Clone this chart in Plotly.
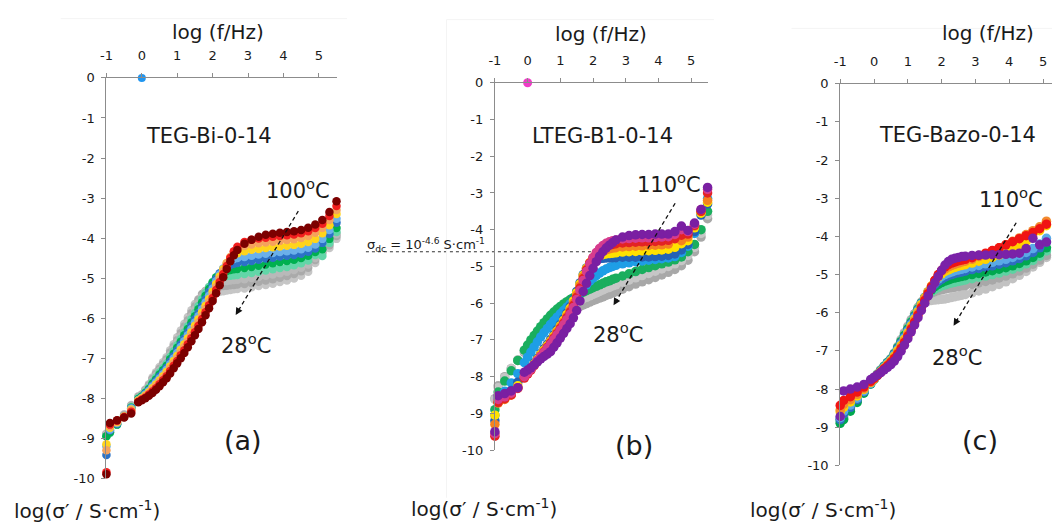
import plotly.graph_objects as go

W, H = 1052, 530

# shared frequency grid, log(f/Hz)
log_f = [-1.0, -0.9, -0.7, -0.5, -0.3, -0.1,
         0.0, 0.1, 0.2, 0.3, 0.4, 0.5, 0.6, 0.7, 0.8, 0.9, 1.0, 1.1, 1.2, 1.3, 1.4,
         1.5, 1.6, 1.7, 1.8, 1.9, 2.0, 2.1, 2.2, 2.3, 2.4, 2.5, 2.6, 2.7,
         2.9, 3.1, 3.3, 3.5, 3.7, 3.9, 4.1, 4.3, 4.5, 4.7, 4.9, 5.1, 5.3, 5.5]

# ---------------- panel (a) TEG-Bi-0-14, 28 -> 100 C ----------------
a_gray3 = [-8.88, -8.82, -8.62, -8.4, -8.17, -7.95,
           -7.9, -7.78, -7.65, -7.48, -7.35, -7.22, -7.1, -6.98, -6.8, -6.65, -6.48, -6.31, -6.14, -5.97, -5.8,
           -5.65, -5.53, -5.46, -5.42, -5.4, -5.38, -5.36, -5.34, -5.33, -5.31, -5.3, -5.28, -5.27,
           -5.26, -5.23, -5.2, -5.17, -5.14, -5.1, -5.06, -5.01, -4.94, -4.84, -4.62, -4.38, -4.25, -4.02]
a_gray2 = [-8.9, -8.84, -8.64, -8.42, -8.19, -7.97,
           -7.92, -7.8, -7.68, -7.52, -7.39, -7.27, -7.15, -7.03, -6.86, -6.71, -6.55, -6.38, -6.21, -6.05, -5.88,
           -5.71, -5.54, -5.4, -5.32, -5.28, -5.25, -5.23, -5.21, -5.2, -5.19, -5.18, -5.17, -5.16,
           -5.15, -5.12, -5.09, -5.06, -5.03, -4.99, -4.95, -4.9, -4.83, -4.74, -4.55, -4.35, -4.18, -3.95]
a_gray1 = [-8.9, -8.85, -8.65, -8.44, -8.21, -7.99,
           -7.93, -7.82, -7.71, -7.56, -7.44, -7.32, -7.2, -7.08, -6.92, -6.77, -6.61, -6.45, -6.29, -6.12, -5.96,
           -5.79, -5.62, -5.46, -5.32, -5.22, -5.16, -5.12, -5.1, -5.08, -5.07, -5.06, -5.05, -5.04,
           -5.03, -5.0, -4.97, -4.94, -4.91, -4.88, -4.84, -4.8, -4.74, -4.66, -4.5, -4.3, -4.12, -3.9]
a_mint = [-8.95, -8.87, -8.66, -8.45, -8.22, -8.0,
          -7.95, -7.85, -7.74, -7.6, -7.48, -7.36, -7.25, -7.14, -6.97, -6.83, -6.68, -6.52, -6.36, -6.2, -6.03,
          -5.87, -5.7, -5.53, -5.37, -5.22, -5.1, -5.03, -4.99, -4.97, -4.95, -4.94, -4.93, -4.92,
          -4.9, -4.87, -4.84, -4.81, -4.78, -4.75, -4.72, -4.68, -4.63, -4.56, -4.42, -4.45, -4.12, -3.85]
a_green = [-8.95, -8.85, -8.66, -8.46, -8.24, -8.02,
           -7.96, -7.87, -7.77, -7.64, -7.53, -7.41, -7.3, -7.19, -7.03, -6.89, -6.74, -6.59, -6.43, -6.27, -6.11,
           -5.95, -5.78, -5.61, -5.44, -5.27, -5.11, -4.98, -4.9, -4.85, -4.82, -4.8, -4.78, -4.77,
           -4.75, -4.72, -4.69, -4.66, -4.63, -4.6, -4.57, -4.54, -4.5, -4.44, -4.35, -4.28, -4.02, -3.75]
a_blue = [-9.42, -8.8, -8.64, -8.46, -8.25, -8.04,
          -7.98, -7.89, -7.8, -7.68, -7.57, -7.46, -7.35, -7.24, -7.09, -6.95, -6.81, -6.66, -6.51, -6.35, -6.19,
          -6.03, -5.87, -5.7, -5.53, -5.35, -5.18, -5.02, -4.88, -4.78, -4.71, -4.67, -4.64, -4.62,
          -4.6, -4.57, -4.54, -4.51, -4.49, -4.46, -4.44, -4.42, -4.39, -4.34, -4.26, -4.12, -3.9, -3.62]
a_lightblue = [-9.2, -8.78, -8.62, -8.46, -8.26, -8.05,
               -7.99, -7.91, -7.82, -7.71, -7.61, -7.51, -7.4, -7.29, -7.15, -7.01, -6.87, -6.72, -6.58, -6.43, -6.27,
               -6.11, -5.95, -5.78, -5.61, -5.44, -5.26, -5.08, -4.91, -4.76, -4.65, -4.57, -4.52, -4.5,
               -4.47, -4.44, -4.41, -4.39, -4.37, -4.35, -4.33, -4.31, -4.28, -4.24, -4.16, -4.02, -3.8, -3.52]
a_yellow = [-9.15, -8.74, -8.6, -8.46, -8.28, -8.06,
            -8.0, -7.93, -7.85, -7.75, -7.66, -7.56, -7.45, -7.34, -7.21, -7.07, -6.94, -6.79, -6.65, -6.5, -6.35,
            -6.19, -6.03, -5.86, -5.69, -5.52, -5.34, -5.15, -4.96, -4.78, -4.62, -4.5, -4.42, -4.38,
            -4.33, -4.29, -4.27, -4.25, -4.23, -4.21, -4.19, -4.17, -4.14, -4.1, -4.02, -3.88, -3.68, -3.4]
a_orange = [-9.3, -8.7, -8.58, -8.46, -8.3, -8.08,
            -8.02, -7.96, -7.88, -7.79, -7.7, -7.6, -7.5, -7.4, -7.26, -7.13, -7.0, -6.86, -6.72, -6.58, -6.42,
            -6.27, -6.11, -5.94, -5.77, -5.6, -5.42, -5.23, -5.03, -4.83, -4.63, -4.47, -4.35, -4.27,
            -4.2, -4.16, -4.13, -4.11, -4.09, -4.07, -4.05, -4.03, -4.0, -3.95, -3.87, -3.75, -3.55, -3.3]
a_red = [-9.85, -8.66, -8.56, -8.47, -8.34, -8.09,
         -8.03, -7.98, -7.91, -7.83, -7.75, -7.65, -7.55, -7.45, -7.32, -7.19, -7.07, -6.93, -6.8, -6.65, -6.5,
         -6.35, -6.19, -6.02, -5.85, -5.68, -5.5, -5.3, -5.1, -4.9, -4.7, -4.5, -4.33, -4.22,
         -4.1, -4.04, -4.01, -3.99, -3.97, -3.95, -3.93, -3.91, -3.88, -3.83, -3.75, -3.64, -3.45, -3.2]
a_darkred = [-9.9, -8.62, -8.55, -8.48, -8.38, -8.1,
             -8.05, -8.0, -7.94, -7.87, -7.79, -7.7, -7.6, -7.5, -7.38, -7.25, -7.13, -7.0, -6.87, -6.73, -6.58,
             -6.43, -6.27, -6.1, -5.93, -5.75, -5.57, -5.38, -5.18, -4.98, -4.77, -4.58, -4.43, -4.3,
             -4.14, -4.04, -3.97, -3.92, -3.89, -3.87, -3.85, -3.83, -3.8, -3.74, -3.66, -3.55, -3.35, -3.08]

# ---------------- panel (b) LTEG-B1-0-14, 28 -> 110 C ----------------
b_gray1 = [-8.6, -8.25, -8.0, -7.78, -7.56, -7.34,
           -7.23, -7.12, -7.02, -6.92, -6.83, -6.74, -6.66, -6.58, -6.51, -6.44, -6.38, -6.32, -6.27, -6.22, -6.17,
           -6.13, -6.09, -6.05, -6.01, -5.97, -5.93, -5.9, -5.86, -5.83, -5.79, -5.76, -5.72, -5.69,
           -5.62, -5.55, -5.48, -5.42, -5.36, -5.3, -5.23, -5.16, -5.08, -4.98, -4.83, -4.6, -4.2, -3.7]
b_gray2 = [-8.62, -8.3, -8.03, -7.78, -7.54, -7.3,
           -7.18, -7.06, -6.95, -6.84, -6.74, -6.64, -6.55, -6.46, -6.38, -6.31, -6.24, -6.18, -6.12, -6.07, -6.02,
           -5.97, -5.92, -5.88, -5.84, -5.8, -5.76, -5.72, -5.68, -5.64, -5.6, -5.57, -5.53, -5.5,
           -5.43, -5.37, -5.31, -5.25, -5.19, -5.13, -5.07, -5.0, -4.93, -4.84, -4.7, -4.48, -4.1, -3.6]
b_green = [-8.9, -8.42, -8.12, -7.84, -7.56, -7.28,
           -7.14, -7.0, -6.88, -6.76, -6.64, -6.53, -6.43, -6.33, -6.24, -6.16, -6.09, -6.02, -5.96, -5.9, -5.85,
           -5.8, -5.75, -5.7, -5.66, -5.62, -5.58, -5.54, -5.5, -5.46, -5.42, -5.39, -5.35, -5.32,
           -5.26, -5.2, -5.14, -5.08, -5.03, -4.98, -4.93, -4.88, -4.82, -4.74, -4.6, -4.4, -4.0, -3.5]
b_lightblue = [-9.05, -8.6, -8.4, -8.17, -7.92, -7.62,
               -7.47, -7.33, -7.19, -7.05, -6.92, -6.8, -6.69, -6.58, -6.48, -6.38, -6.29, -6.2, -6.11, -6.02, -5.92,
               -5.82, -5.71, -5.6, -5.5, -5.4, -5.32, -5.25, -5.18, -5.12, -5.07, -5.03, -5.0, -4.97,
               -4.93, -4.9, -4.87, -4.85, -4.83, -4.81, -4.79, -4.77, -4.73, -4.62, -4.45, -4.1, -3.55, -3.15]
b_blue = [-9.2, -8.7, -8.55, -8.38, -8.15, -7.98,
          -7.88, -7.76, -7.63, -7.5, -7.37, -7.24, -7.12, -6.99, -6.86, -6.72, -6.58, -6.43, -6.27, -6.1, -5.9,
          -5.68, -5.45, -5.22, -5.04, -4.92, -4.85, -4.81, -4.79, -4.78, -4.77, -4.77, -4.76, -4.76,
          -4.75, -4.75, -4.75, -4.74, -4.74, -4.73, -4.72, -4.7, -4.66, -4.55, -4.4, -4.05, -3.6, -3.3]
b_yellow = [-9.05, -8.7, -8.6, -8.45, -8.25, -8.0,
            -7.9, -7.78, -7.66, -7.53, -7.4, -7.28, -7.16, -7.03, -6.9, -6.76, -6.62, -6.47, -6.31, -6.14, -5.94,
            -5.72, -5.48, -5.24, -5.05, -4.9, -4.8, -4.74, -4.7, -4.68, -4.66, -4.65, -4.64, -4.63,
            -4.61, -4.6, -4.59, -4.58, -4.57, -4.56, -4.55, -4.53, -4.48, -4.38, -4.3, -3.95, -3.55, -3.25]
b_orange = [-9.3, -8.72, -8.62, -8.5, -8.3, -8.02,
            -7.92, -7.8, -7.68, -7.55, -7.43, -7.31, -7.19, -7.06, -6.93, -6.79, -6.65, -6.51, -6.36, -6.19, -6.0,
            -5.78, -5.53, -5.28, -5.07, -4.9, -4.78, -4.69, -4.62, -4.58, -4.55, -4.52, -4.5, -4.49,
            -4.47, -4.46, -4.45, -4.44, -4.43, -4.42, -4.41, -4.39, -4.25, -4.3, -4.2, -3.9, -3.5, -3.2]
b_red = [-9.62, -8.7, -8.6, -8.5, -8.32, -8.04,
         -7.93, -7.82, -7.7, -7.57, -7.45, -7.33, -7.21, -7.09, -6.96, -6.83, -6.69, -6.55, -6.4, -6.24, -6.06,
         -5.84, -5.59, -5.33, -5.1, -4.91, -4.76, -4.64, -4.55, -4.49, -4.45, -4.42, -4.4, -4.38,
         -4.36, -4.35, -4.34, -4.33, -4.33, -4.32, -4.31, -4.29, -4.24, -4.15, -4.12, -3.88, -3.5, -3.0]
b_pink = [-9.55, -8.62, -8.55, -8.45, -8.3, -8.0,
          -7.9, -7.8, -7.68, -7.56, -7.45, -7.34, -7.23, -7.12, -6.99, -6.86, -6.73, -6.59, -6.45, -6.3, -6.12,
          -5.9, -5.65, -5.38, -5.14, -4.93, -4.76, -4.62, -4.51, -4.43, -4.37, -4.33, -4.3, -4.28,
          -4.25, -4.24, -4.23, -4.22, -4.22, -4.21, -4.2, -4.19, -4.13, -4.0, -4.05, -3.85, -3.45, -2.9]
b_purple = [-9.5, -8.52, -8.46, -8.39, -8.3, -7.88,
            -7.82, -7.76, -7.68, -7.6, -7.52, -7.45, -7.39, -7.32, -7.2, -7.08, -6.95, -6.82, -6.69, -6.56, -6.4,
            -6.2, -5.94, -5.68, -5.46, -5.25, -5.05, -4.87, -4.72, -4.6, -4.5, -4.42, -4.35, -4.28,
            -4.2, -4.16, -4.14, -4.13, -4.13, -4.12, -4.12, -4.12, -4.05, -3.9, -4.02, -3.82, -3.45, -2.85]

# ---------------- panel (c) TEG-Bazo-0-14, 28 -> 110 C ----------------
c_grayA = [-8.8, -8.72, -8.5, -8.28, -8.05, -7.82,
           -7.71, -7.6, -7.5, -7.39, -7.3, -7.2, -7.05, -6.88, -6.7, -6.52, -6.35, -6.18, -6.03, -5.9, -5.81,
           -5.74, -5.7, -5.68, -5.67, -5.66, -5.65, -5.64, -5.62, -5.6, -5.58, -5.56, -5.54, -5.52,
           -5.48, -5.43, -5.38, -5.32, -5.26, -5.19, -5.11, -5.02, -4.92, -4.8, -4.68, -4.55, -4.4, -4.2]
c_grayB = [-8.8, -8.75, -8.52, -8.3, -8.07, -7.84,
           -7.72, -7.61, -7.5, -7.4, -7.31, -7.22, -7.07, -6.9, -6.73, -6.55, -6.38, -6.2, -6.03, -5.86, -5.72,
           -5.6, -5.53, -5.48, -5.45, -5.42, -5.4, -5.38, -5.36, -5.35, -5.33, -5.32, -5.3, -5.29,
           -5.26, -5.22, -5.18, -5.14, -5.09, -5.04, -4.98, -4.91, -4.83, -4.73, -4.62, -4.5, -4.35, -4.1]
c_mint = [-8.85, -8.78, -8.55, -8.32, -8.09, -7.86,
          -7.74, -7.62, -7.51, -7.4, -7.3, -7.21, -7.07, -6.91, -6.75, -6.58, -6.41, -6.23, -6.06, -5.89, -5.75,
          -5.62, -5.53, -5.45, -5.39, -5.34, -5.3, -5.27, -5.24, -5.22, -5.2, -5.18, -5.16, -5.14,
          -5.11, -5.07, -5.04, -5.0, -4.96, -4.91, -4.86, -4.8, -4.72, -4.63, -4.52, -4.38, -4.18, -3.9]
c_green = [-8.9, -8.8, -8.58, -8.35, -8.11, -7.87,
           -7.75, -7.63, -7.52, -7.41, -7.31, -7.22, -7.08, -6.92, -6.76, -6.6, -6.43, -6.25, -6.08, -5.91, -5.75,
           -5.61, -5.5, -5.4, -5.32, -5.26, -5.21, -5.17, -5.14, -5.11, -5.09, -5.07, -5.05, -5.03,
           -5.0, -4.97, -4.93, -4.9, -4.86, -4.82, -4.77, -4.71, -4.64, -4.55, -4.44, -4.3, -4.1, -3.85]
c_blue = [-8.8, -8.65, -8.48, -8.28, -8.07, -7.86,
          -7.75, -7.64, -7.53, -7.42, -7.32, -7.23, -7.09, -6.94, -6.79, -6.63, -6.46, -6.28, -6.1, -5.93, -5.76,
          -5.6, -5.47, -5.35, -5.26, -5.18, -5.12, -5.07, -5.03, -5.0, -4.97, -4.95, -4.93, -4.91,
          -4.87, -4.84, -4.8, -4.77, -4.73, -4.69, -4.64, -4.58, -4.51, -4.42, -4.3, -4.15, -3.95, -3.7]
c_lightblue = [-8.75, -8.58, -8.42, -8.24, -8.05, -7.85,
               -7.75, -7.64, -7.53, -7.43, -7.33, -7.24, -7.11, -6.97, -6.82, -6.66, -6.49, -6.31, -6.13, -5.95, -5.77,
               -5.6, -5.45, -5.32, -5.21, -5.12, -5.05, -5.0, -4.96, -4.93, -4.9, -4.88, -4.86, -4.84,
               -4.8, -4.76, -4.72, -4.68, -4.64, -4.6, -4.55, -4.49, -4.42, -4.32, -4.2, -4.05, -3.85, -3.6]
c_yellow = [-8.6, -8.48, -8.34, -8.18, -8.01, -7.83,
            -7.74, -7.64, -7.55, -7.45, -7.36, -7.26, -7.14, -7.0, -6.86, -6.7, -6.53, -6.35, -6.17, -5.98, -5.79,
            -5.61, -5.45, -5.3, -5.17, -5.06, -4.98, -4.92, -4.88, -4.84, -4.81, -4.78, -4.76, -4.74,
            -4.7, -4.65, -4.6, -4.55, -4.49, -4.42, -4.34, -4.24, -4.13, -3.95, -3.85, -3.72, -3.55, -3.35]
c_orange = [-8.55, -8.4, -8.28, -8.14, -7.99, -7.82,
            -7.73, -7.64, -7.55, -7.46, -7.37, -7.28, -7.17, -7.04, -6.9, -6.74, -6.57, -6.39, -6.21, -6.02, -5.83,
            -5.64, -5.46, -5.3, -5.15, -5.02, -4.92, -4.85, -4.8, -4.76, -4.73, -4.7, -4.67, -4.65,
            -4.6, -4.53, -4.46, -4.38, -4.3, -4.22, -4.13, -4.04, -3.95, -3.85, -3.75, -3.6, -3.42, -3.2]
c_red = [-8.43, -8.3, -8.2, -8.08, -7.95, -7.8,
         -7.72, -7.64, -7.56, -7.47, -7.39, -7.3, -7.2, -7.08, -6.94, -6.78, -6.61, -6.43, -6.25, -6.06, -5.87,
         -5.68, -5.5, -5.32, -5.15, -5.0, -4.89, -4.8, -4.74, -4.7, -4.67, -4.64, -4.62, -4.6,
         -4.56, -4.5, -4.44, -4.37, -4.3, -4.22, -4.14, -4.06, -3.98, -3.9, -3.8, -3.68, -3.52, -3.3]
c_purple = [-8.72, -8.05, -8.0, -7.95, -7.88, -7.75,
            -7.69, -7.63, -7.57, -7.5, -7.43, -7.36, -7.27, -7.15, -7.01, -6.85, -6.68, -6.5, -6.32, -6.13, -5.94,
            -5.75, -5.56, -5.38, -5.21, -5.05, -4.89, -4.75, -4.66, -4.6, -4.57, -4.55, -4.53, -4.52,
            -4.5, -4.49, -4.49, -4.48, -4.48, -4.47, -4.46, -4.44, -4.32, -4.05, -4.22, -4.15, -3.9, -3.6]

# isolated points at (0, 0)
a_origin_x, a_origin_y = [0.0], [0.0]
b_origin_x, b_origin_y = [0.0], [0.0]

x_ticks = [-1, 0, 1, 2, 3, 4, 5]
x_tick_text = ['-1', '0', '1', '2', '3', '4', '5']
y_ticks = [0, -1, -2, -3, -4, -5, -6, -7, -8, -9, -10]
y_tick_text = ['0', '-1', '-2', '-3', '-4', '-5', '-6', '-7', '-8', '-9', '-10']
sigma_dc_b = -4.6

panel_a = [(a_gray3, '#C6C6C6'), (a_gray2, '#AAAAAA'), (a_gray1, '#B9B9B9'), (a_mint, '#62D6A8'),
           (a_green, '#00B050'), (a_blue, '#2C72C6'), (a_lightblue, '#6AB0EA'), (a_yellow, '#FFD41C'),
           (a_orange, '#F5A25C'), (a_red, '#F21E1E'), (a_darkred, '#7C0000')]
panel_b = [(b_gray1, '#A8A8A8'), (b_gray2, '#C6C6C6'), (b_green, '#1AAE5E'), (b_lightblue, '#1E9EE6'),
           (b_blue, '#2462B4'), (b_yellow, '#FFE100'), (b_orange, '#F5821F'), (b_red, '#E32323'),
           (b_pink, '#D63C8E'), (b_purple, '#7A1FA2')]
panel_c = [(c_grayA, '#C2C2C2'), (c_grayB, '#A8A8A8'), (c_mint, '#5ED2A2'), (c_green, '#00A84F'),
           (c_blue, '#2F6DC2'), (c_lightblue, '#5AAAE6'), (c_yellow, '#FFD200'), (c_orange, '#F28A2E'),
           (c_red, '#F01414'), (c_purple, '#7A22A8')]

for _s, _c in panel_a + panel_b + panel_c:
    assert len(_s) == len(log_f), (_c, len(_s))

FONT = 'DejaVu Sans'
TXT = '#1a1a1a'
AX = '#8C8C8C'


def px(x, y):
    return x / W, 1 - y / H


fig = go.Figure()

for series, axes, size in ((panel_a, ('x', 'y'), 8.5), (panel_b, ('x2', 'y2'), 9.5), (panel_c, ('x3', 'y3'), 9.5)):
    for ys, col in series:
        fig.add_trace(go.Scatter(x=log_f, y=ys, mode='markers', xaxis=axes[0], yaxis=axes[1],
                                 marker=dict(size=size, color=col, line=dict(width=0)),
                                 cliponaxis=False, hoverinfo='skip', showlegend=False))

fig.add_trace(go.Scatter(x=a_origin_x, y=a_origin_y, mode='markers', xaxis='x', yaxis='y',
                         marker=dict(size=8, color='#2196F0'), cliponaxis=False, showlegend=False))
fig.add_trace(go.Scatter(x=b_origin_x, y=b_origin_y, mode='markers', xaxis='x2', yaxis='y2',
                         marker=dict(size=9, color='#F03CC8'), cliponaxis=False, showlegend=False))


def xaxis(dom, rng, anchor):
    return dict(domain=dom, range=rng, anchor=anchor, side='top', showline=True, linecolor=AX, linewidth=1,
                ticks='outside', ticklen=4, tickcolor=AX, tickvals=x_ticks, ticktext=x_tick_text,
                showgrid=False, zeroline=False,
                tickfont=dict(family=FONT, size=13, color=TXT), ticklabelstandoff=8, fixedrange=True)


def yaxis(dom, anchor):
    return dict(domain=dom, range=[-10, 0], anchor=anchor, showline=True, linecolor=AX, linewidth=1,
                ticks='outside', ticklen=4, tickcolor=AX, tickvals=y_ticks, ticktext=y_tick_text,
                showgrid=False, zeroline=False,
                tickfont=dict(family=FONT, size=13, color=TXT), ticklabelstandoff=4, fixedrange=True)


fig.update_layout(
    width=W, height=H, autosize=False, margin=dict(l=0, r=0, t=0, b=0),
    paper_bgcolor='white', plot_bgcolor='white', showlegend=False,
    xaxis=xaxis([101 / W, 332.4 / W], [-1, 5.5], 'y'),
    yaxis=yaxis([1 - 485 / H, 1 - 73 / H], 'x'),
    xaxis2=xaxis([491.7 / W, 705.6 / W], [-1, 5.5], 'y2'),
    yaxis2=yaxis([1 - 456 / H, 1 - 78 / H], 'x2'),
    xaxis3=xaxis([839 / W, 1.0], [-1, (W - 839) / 34.0 - 1], 'y3'),
    yaxis3=yaxis([1 - 471.7 / H, 1 - 79 / H], 'x3'),
)

anns = []


def text(x, y, s, size, anchor='center'):
    X, Y = px(x, y)
    anns.append(dict(x=X, y=Y, xref='paper', yref='paper', text=s, showarrow=False, xanchor=anchor,
                     yanchor='middle', font=dict(family=FONT, size=size, color=TXT)))


for cx, cy in ((213, 26), (598, 28), (988, 27)):
    text(cx, cy, 'log (f/Hz)', 20)
for cx, cy in ((81, 518), (481, 516), (822, 517)):
    text(cx, cy, 'log(σ′ / S·cm<sup>-1</sup>)', 20)

text(204, 133, 'TEG-Bi-0-14', 21)
text(600, 133, 'LTEG-B1-0-14', 21)
text(957, 132, 'TEG-Bazo-0-14', 21)
text(238, 446, '(a)', 27)
text(632, 451, '(b)', 27)
text(980, 446, '(c)', 27)
text(294, 187, '100<sup>o</sup>C', 21)
text(241, 347, '28<sup>o</sup>C', 21)
text(667, 181, '110<sup>o</sup>C', 21)
text(616, 336, '28<sup>o</sup>C', 21)
text(1011, 197, '110<sup>o</sup>C', 21)
text(956, 359, '28<sup>o</sup>C', 21)
text(361, 245, 'σ<sub>dc</sub> = 10<sup>-4.6</sup> S·cm<sup>-1</sup>', 13, anchor='left')

shapes = []
# dashed temperature arrows
for (x0, y0), (x1, y1) in (((294, 210), (231, 317)), ((673, 202), (611, 307)), ((1016, 222), (953, 328))):
    X0, Y0 = px(x0, y0)
    dx, dy = x0 - x1, y0 - y1
    L = (dx * dx + dy * dy) ** 0.5
    X1, Y1 = px(x1 + dx / L * 5, y1 + dy / L * 5)
    shapes.append(dict(type='line', xref='paper', yref='paper', x0=X0, y0=Y0, x1=X1, y1=Y1,
                       line=dict(color='#111', width=1.3, dash='4px,3px')))
    HX, HY = px(x1, y1)
    anns.append(dict(x=HX, y=HY, xref='paper', yref='paper', text='', showarrow=True, arrowhead=2,
                     arrowsize=1.1, arrowwidth=1.3, arrowcolor='#111', ax=dx / L * 9, ay=dy / L * 9))

# sigma_dc guide line
shapes.append(dict(type='line', xref='paper', yref='y2', x0=362 / W, x1=680 / W, y0=sigma_dc_b, y1=sigma_dc_b,
                   line=dict(color='#333', width=1, dash='dot'), layer='below'))
# faint frame lines of the original panels
for x0, y0, x1, y1 in ((55, 12, 343, 12), (443, 13, 712, 13), (443, 13, 443, 505), (790, 22, 1052, 22)):
    X0, Y0 = px(x0, y0)
    X1, Y1 = px(x1, y1)
    shapes.append(dict(type='line', xref='paper', yref='paper', x0=X0, y0=Y0, x1=X1, y1=Y1,
                       line=dict(color='#F4F4F4', width=1), layer='below'))

fig.update_layout(annotations=anns, shapes=shapes)
fig.write_html('out.html')
